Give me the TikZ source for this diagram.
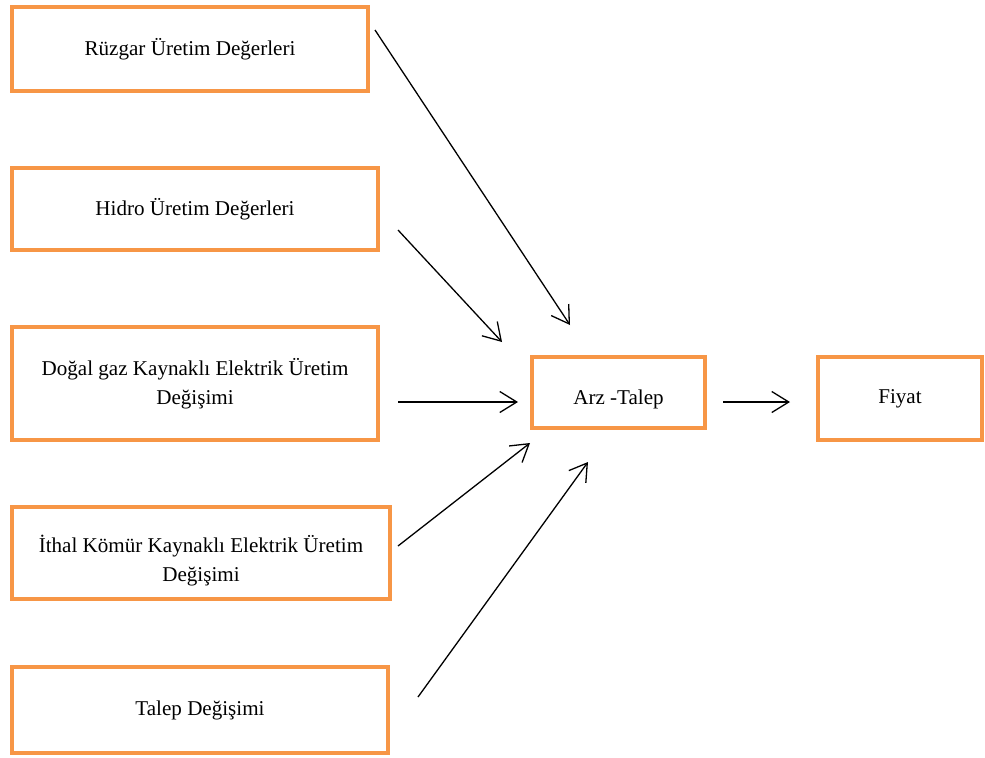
\documentclass[tikz,border=0pt]{standalone}
\usepackage{fontspec}
\setmainfont{Liberation Serif}
\usetikzlibrary{arrows.meta,positioning}
\definecolor{boxorange}{RGB}{247,150,70}

\begin{document}
\begin{tikzpicture}
    [
        x=0.02cm, y=-0.02cm,
        mybox/.style={draw=boxorange, line width=0.08cm, align=center, inner sep=0pt,
            font=\fontsize{12}{16.5}\selectfont},
        myarrow/.style={black, line width=0.026cm, -{Straight Barb[length=0.34cm,width=0.42cm]}}
    ]
%    \draw[style=help lines,step=50] (0,0) grid (985,758);
    \node[mybox, minimum width=7.12cm, minimum height=1.68cm] (ruzgar) at (190,49) {R\"uzgar \"Uretim De\u{g}erleri};
    \node[mybox, minimum width=7.32cm, minimum height=1.64cm] (hidro) at (195,209) {Hidro \"Uretim De\u{g}erleri};
    \node[mybox, minimum width=7.32cm, minimum height=2.26cm] (dogalgaz) at (195,383.5) {Do\u{g}al gaz Kaynakl\i\ Elektrik \"Uretim\\De\u{g}i\c{s}imi};
    \node[mybox, minimum width=7.56cm, minimum height=1.84cm] (ithal) at (201,553) {\rule{0pt}{0.66cm}\.Ithal K\"om\"ur Kaynakl\i\ Elektrik \"Uretim\\De\u{g}i\c{s}imi};
    \node[mybox, minimum width=7.52cm, minimum height=1.72cm] (talep) at (200,710) {Talep De\u{g}i\c{s}imi};

    \node[mybox, minimum width=3.46cm, minimum height=1.42cm] (arztalep) at (618.5,392.5) {\rule{0pt}{0.58cm}Arz -Talep};
    \node[mybox, minimum width=3.28cm, minimum height=1.66cm] (fiyat) at (900,398.5) {Fiyat};

    % arrow ends, kept apart from the boxes
    \coordinate (r0) at (375,30);
    \coordinate (r1) at (570,325);
    \coordinate (h0) at (398,230);
    \coordinate (h1) at (502,342);
    \coordinate (d0) at (398,402);
    \coordinate (d1) at (518,402);
    \coordinate (i0) at (398,546);
    \coordinate (i1) at (530,443);
    \coordinate (t0) at (418,697);
    \coordinate (t1) at (588,462);
    \coordinate (f0) at (723,402);
    \coordinate (f1) at (790,402);

    \draw[myarrow] (r0) -- (r1);
    \draw[myarrow] (h0) -- (h1);
    \draw[myarrow] (d0) -- (d1);
    \draw[myarrow] (i0) -- (i1);
    \draw[myarrow] (t0) -- (t1);
    \draw[myarrow] (f0) -- (f1);

    \pgfresetboundingbox
    \useasboundingbox (0,0) rectangle (985,758);
\end{tikzpicture}
\end{document}
